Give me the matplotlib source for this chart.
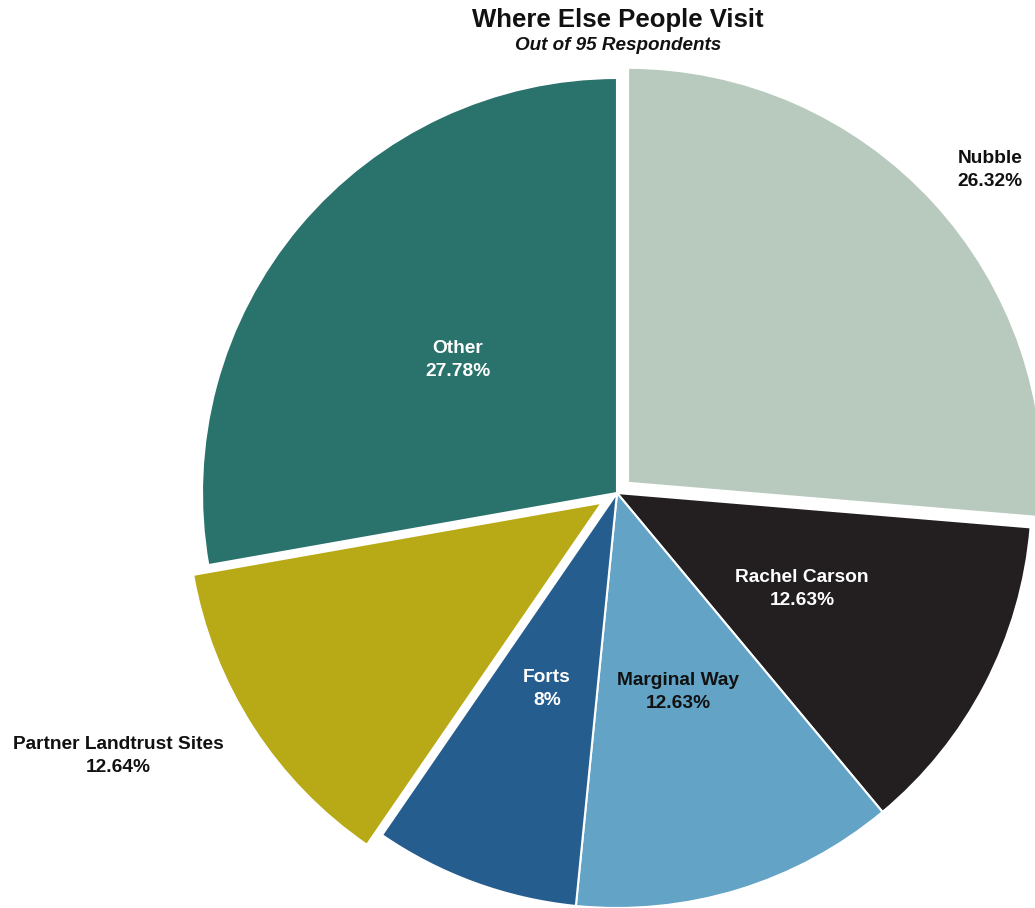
import matplotlib.pyplot as plt

plt.rcParams['font.family'] = ['Liberation Sans', 'DejaVu Sans']

sites = ["Nubble", "Rachel Carson", "Marginal Way", "Forts",
         "Partner Landtrust Sites", "Other"]
shares = [26.32, 12.63, 12.63, 8, 12.64, 27.78]
share_labels = ["26.32%", "12.63%", "12.63%", "8%", "12.64%", "27.78%"]
colors = ["#b8c9be", "#231f20", "#62a3c6", "#245d8e", "#b8aa17", "#2a726c"]

# work in pixel units so explode offsets are easy to reason about
W, H = 1035, 908
fig = plt.figure(figsize=(W / 100, H / 100), dpi=100)
ax = fig.add_axes([0, 0, 1, 1])
ax.set_xlim(0, W)
ax.set_ylim(0, H)
ax.set_aspect("equal")
ax.axis("off")

cx, cy, r = 617, H - 493, 415
explode = [15, 0, 0, 0, 18, 0]

wedges, _ = ax.pie(shares, colors=colors, startangle=90, counterclock=False,
                   center=(cx, cy), radius=r, explode=explode,
                   wedgeprops=dict(edgecolor="white", linewidth=1.5))
ax.set_xlim(0, W)
ax.set_ylim(0, H)

# label positions (pixels from top-left) and text colour
label_pos = [(990, 170), (802, 589), (678, 692), (547, 689), (118, 756), (458, 360)]
label_col = ["#111111", "white", "#111111", "white", "#111111", "white"]
for name, pct, (lx, ly), c in zip(sites, share_labels, label_pos, label_col):
    ax.text(lx, H - ly, f"{name}\n{pct}", ha="center", va="center",
            fontsize=13.8, fontweight="bold", color=c, linespacing=1.45)

fig.text(618 / W, 1 - 20 / H, "Where Else People Visit", ha="center", va="center",
         fontsize=18.5, fontweight="bold", color="#111111")
fig.text(618 / W, 1 - 46 / H, "Out of 95 Respondents", ha="center", va="center",
         fontsize=13.6, fontweight="bold", fontstyle="italic", color="#111111")

fig.savefig("out.png", dpi=100)
